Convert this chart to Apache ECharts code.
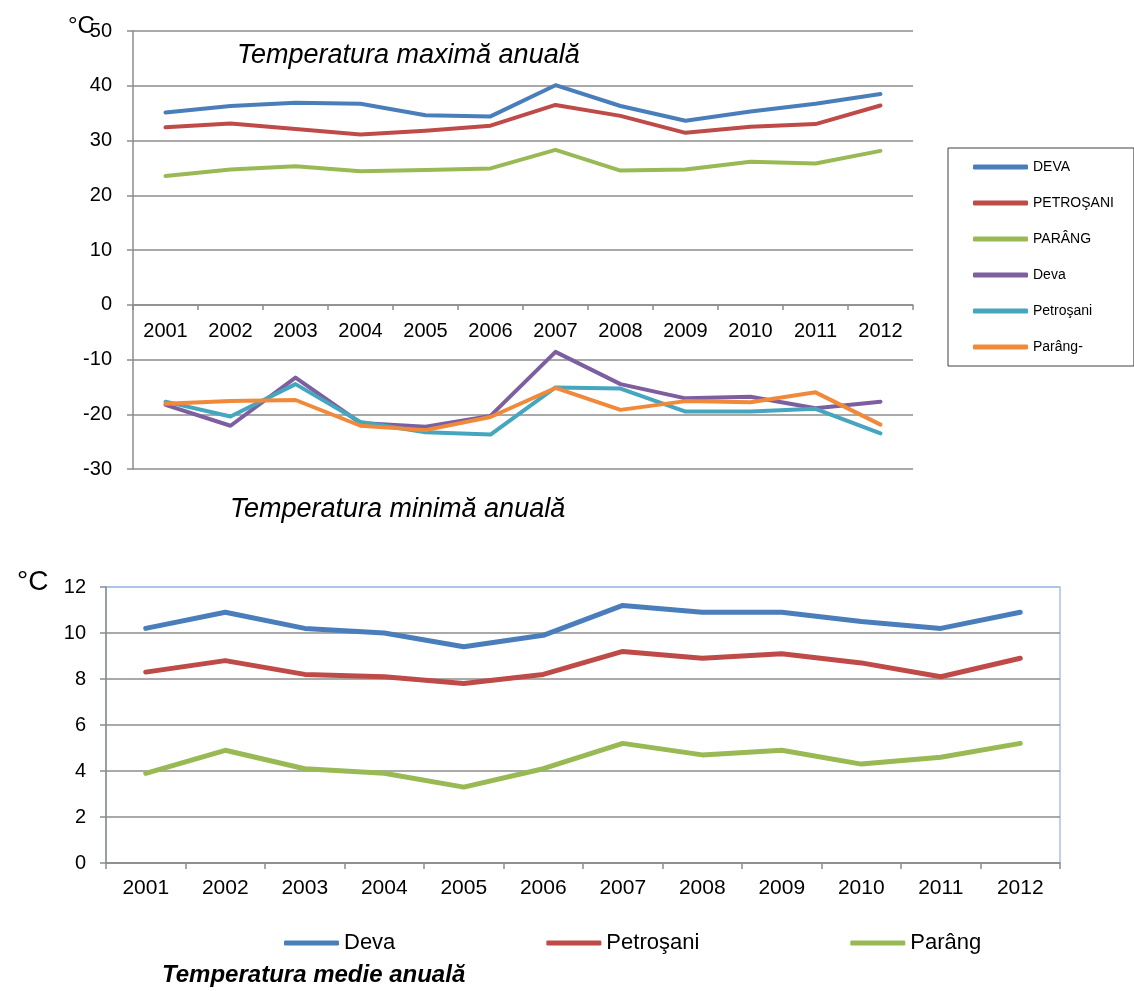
<!DOCTYPE html>
<html><head><meta charset="utf-8">
<script src="https://cdn.jsdelivr.net/npm/echarts@6/dist/echarts.min.js"></script>
<style>html,body{margin:0;padding:0;background:#fff}#ctop{width:1134px;height:545px}#cbot{width:1134px;height:446px}</style>
</head><body><div id="ctop"></div><div id="cbot"></div>
<script>
const years = ['2001','2002','2003','2004','2005','2006','2007','2008','2009','2010','2011','2012'];
// Temperatura maximă anuală
const maxDeva       = [35.1, 36.3, 36.9, 36.7, 34.6, 34.4, 40.1, 36.3, 33.6, 35.3, 36.7, 38.5];
const maxPetrosani  = [32.4, 33.1, 32.1, 31.1, 31.8, 32.7, 36.5, 34.5, 31.4, 32.5, 33.0, 36.4];
const maxParang     = [23.5, 24.7, 25.3, 24.4, 24.6, 24.9, 28.3, 24.5, 24.7, 26.1, 25.8, 28.1];
// Temperatura minimă anuală
const minDeva       = [-18.3, -22.1, -13.3, -21.6, -22.3, -20.3, -8.6, -14.5, -17.1, -16.8, -18.9, -17.7];
const minPetrosani  = [-17.7, -20.4, -14.5, -21.4, -23.3, -23.7, -15.1, -15.3, -19.5, -19.5, -19.0, -23.5];
const minParang     = [-18.1, -17.6, -17.4, -22.1, -22.9, -20.5, -15.2, -19.2, -17.6, -17.8, -16.0, -21.9];
// Temperatura medie anuală
const medDeva       = [10.2, 10.9, 10.2, 10.0, 9.4, 9.9, 11.2, 10.9, 10.9, 10.5, 10.2, 10.9];
const medPetrosani  = [8.3, 8.8, 8.2, 8.1, 7.8, 8.2, 9.2, 8.9, 9.1, 8.7, 8.1, 8.9];
const medParang     = [3.9, 4.9, 4.1, 3.9, 3.3, 4.1, 5.2, 4.7, 4.9, 4.3, 4.6, 5.2];
const topNames = ['DEVA','PETROŞANI','PARÂNG','Deva','Petroşani','Parâng-'];
const botNames = ['Deva','Petroşani','Parâng'];

const C = {blue:'#4A7EBB', red:'#BE4B48', green:'#98B954', purple:'#7D5FA0', teal:'#46A5BF', orange:'#F08A3A'};
const gridGray = '#8C8C8C';
const FONT = 'Liberation Sans, Arial, sans-serif';

function ln(name, data, color, w) {
  return {name, type:'line', data, symbol:'none', smooth:false,
    lineStyle:{color, width:w, cap:'round', join:'round'}, itemStyle:{color}, animation:false};
}

const chartTop = echarts.init(document.getElementById('ctop'), null, {renderer:'canvas'});
chartTop.setOption({
  backgroundColor:'#fff',
  animation:false,
  textStyle:{fontFamily:FONT},
  grid:{left:133, top:31, width:780, height:438, show:false},
  xAxis:{type:'category', data:years, boundaryGap:true, position:'bottom', offset:-164,
     axisLine:{show:true, onZero:false, lineStyle:{color:gridGray, width:1.5}},
     axisTick:{show:true, length:5, lineStyle:{color:gridGray, width:1.5}},
     axisLabel:{color:'#000', fontSize:20, margin:16, fontFamily:FONT}},
  yAxis:{type:'value', min:-30, max:50, interval:10,
     axisLine:{show:true, lineStyle:{color:gridGray, width:1.5}},
     axisTick:{show:true, length:6, lineStyle:{color:gridGray, width:1.5}},
     splitLine:{show:true, lineStyle:{color:gridGray, width:1.5}},
     axisLabel:{color:'#000', fontSize:20, margin:21, fontFamily:FONT}},
  legend:{data:topNames, orient:'vertical', left:948, top:148, itemWidth:55, itemHeight:5, itemGap:22,
     icon:'roundRect', borderColor:'#404040', borderWidth:1, padding:[12,20,12,25],
     textStyle:{fontSize:14, color:'#000', fontFamily:FONT, lineHeight:14}},
  graphic:[
    {type:'text', left:68, top:14, style:{text:'°C', fontSize:24, fill:'#000', fontFamily:FONT}},
    {type:'text', left:237, top:42, style:{text:'Temperatura maximă anuală', fontSize:27, fontStyle:'italic', fill:'#000', fontFamily:FONT}},
    {type:'text', left:230, top:496, style:{text:'Temperatura minimă anuală', fontSize:27, fontStyle:'italic', fill:'#000', fontFamily:FONT}}
  ],
  series:[
    ln(topNames[0], maxDeva, C.blue, 4),
    ln(topNames[1], maxPetrosani, C.red, 4),
    ln(topNames[2], maxParang, C.green, 4),
    ln(topNames[3], minDeva, C.purple, 4),
    ln(topNames[4], minPetrosani, C.teal, 4),
    ln(topNames[5], minParang, C.orange, 4)
  ]
});

const chartBot = echarts.init(document.getElementById('cbot'), null, {renderer:'canvas'});
chartBot.setOption({
  backgroundColor:'#fff',
  animation:false,
  textStyle:{fontFamily:FONT},
  grid:{left:106, top:42, width:954, height:276, show:true, borderColor:'#A9C1E4', borderWidth:1.5, backgroundColor:'transparent'},
  xAxis:{type:'category', data:years, boundaryGap:true,
     axisLine:{show:true, lineStyle:{color:gridGray, width:1.5}},
     axisTick:{show:true, length:6, lineStyle:{color:gridGray, width:1.5}},
     axisLabel:{color:'#000', fontSize:21, margin:15, fontFamily:FONT}},
  yAxis:{type:'value', min:0, max:12, interval:2,
     axisLine:{show:true, lineStyle:{color:gridGray, width:1.5}},
     axisTick:{show:true, length:6, lineStyle:{color:gridGray, width:1.5}},
     splitLine:{show:true, lineStyle:{color:[gridGray,gridGray,gridGray,gridGray,gridGray,gridGray,'#A9C1E4'], width:1.5}},
     axisLabel:{color:'#000', fontSize:20, margin:20, fontFamily:FONT}},
  legend:{data:botNames, orient:'horizontal', left:279, top:382, itemWidth:55, itemHeight:5, itemGap:151,
     icon:'roundRect', textStyle:{fontSize:22, color:'#000', fontFamily:FONT}},
  graphic:[
    {type:'text', left:17, top:23, style:{text:'°C', fontSize:28, fill:'#000', fontFamily:FONT}},
    {type:'text', left:162, top:418, style:{text:'Temperatura medie anuală', fontSize:24, fontStyle:'italic', fontWeight:'bold', fill:'#000', fontFamily:FONT}}
  ],
  series:[
    ln(botNames[0], medDeva, C.blue, 5),
    ln(botNames[1], medPetrosani, C.red, 5),
    ln(botNames[2], medParang, C.green, 5)
  ]
});
</script></body></html>
